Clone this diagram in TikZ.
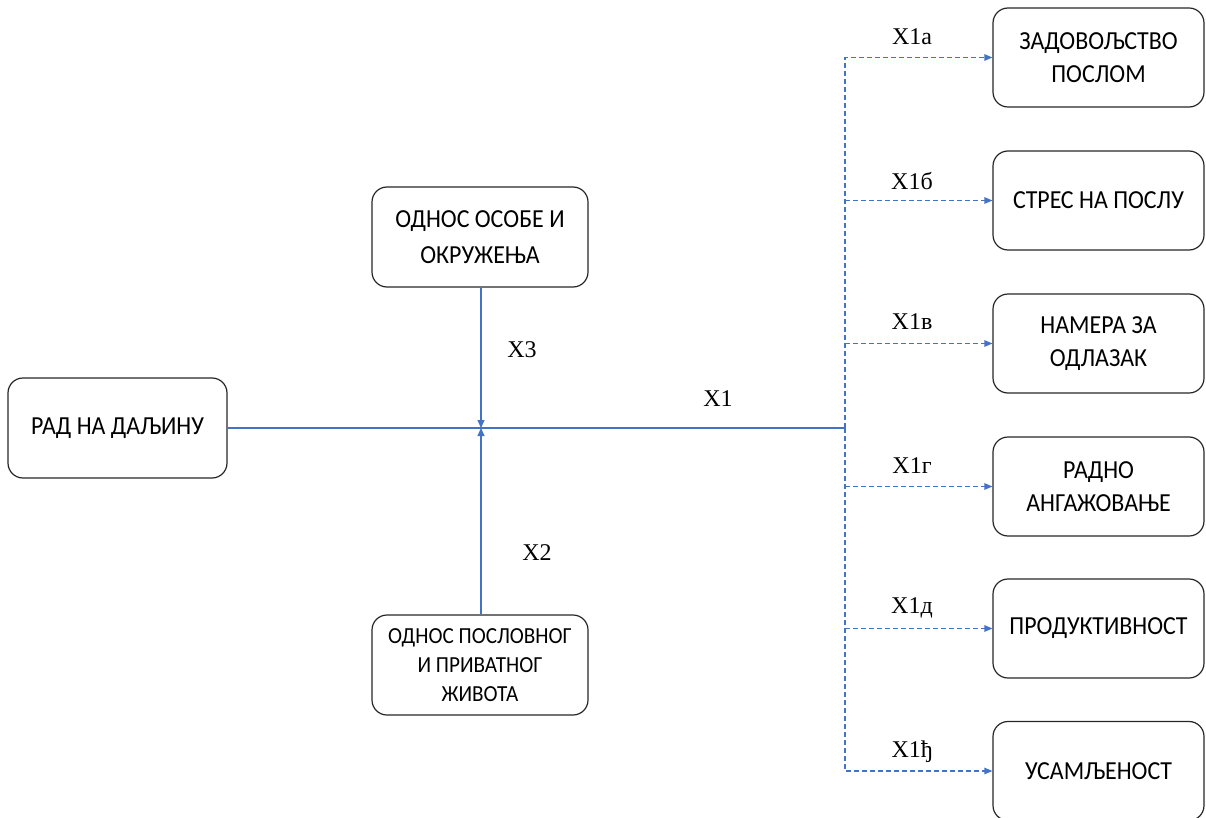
\documentclass[tikz,border=0pt]{standalone}
\usepackage{fontspec}
\setmainfont{Carlito}
\newfontfamily\boxfont[FakeStretch=0.92]{Carlito}
\newfontfamily\labfont{Liberation Serif}
\usetikzlibrary{arrows.meta}
\definecolor{linkblue}{HTML}{4472C4}
\definecolor{boxline}{HTML}{262626}
\tikzset{
  box/.style={draw=boxline, line width=1.2pt, rounded corners=15pt,
    minimum width=216pt, minimum height=100pt, align=center,
    font=\boxfont\fontsize{26}{36}\selectfont, inner sep=2pt},
  rbox/.style={box, minimum width=211pt, minimum height=99pt,
    font=\boxfont\fontsize{26}{33}\selectfont},
  link/.style={draw=linkblue, line width=1.1pt},
  tip/.style={-{Triangle[length=8pt,width=7pt]}},
  dlink/.style={link, dash pattern=on 5pt off 3pt, line width=1.2pt,
    -{Triangle[length=8pt,width=6.5pt]}},
  lab/.style={font=\labfont\fontsize{24}{24}\selectfont, inner sep=0pt}
}
\begin{document}
\begin{tikzpicture}[x=1pt,y=-1pt]
  \useasboundingbox (0,0) rectangle (1206,818);
  \clip (0,0) rectangle (1206,818);

  % source and moderators
  \node[box, minimum width=219pt] (rad) at (117.5,428) {РАД НА ДАЉИНУ};
  \node[box] (okr) at (480,237) {ОДНОС ОСОБЕ И\\ОКРУЖЕЊА};
  \node[box, font=\boxfont\fontsize{23}{29}\selectfont] (priv) at (480,665)
    {ОДНОС ПОСЛОВНОГ\\И ПРИВАТНОГ\\ЖИВОТА};

  % outcomes
  \node[rbox] (o1) at (1098.5,57.5)  {ЗАДОВОЉСТВО\\ПОСЛОМ};
  \node[rbox] (o2) at (1098.5,200.5) {СТРЕС НА ПОСЛУ};
  \node[rbox] (o3) at (1098.5,343.5) {НАМЕРА ЗА\\ОДЛАЗАК};
  \node[rbox] (o4) at (1098.5,486.5) {РАДНО\\АНГАЖОВАЊЕ};
  \node[rbox] (o5) at (1098.5,628.5) {ПРОДУКТИВНОСТ};
  \node[rbox] (o6) at (1098.5,771)   {УСАМЉЕНОСТ};

  % junction points
  \coordinate (mid) at (481,428);
  \coordinate (hub) at (845,428);

  % main path
  \draw[link] (rad.east) -- (hub);
  \draw[link, tip] (okr.south -| mid) -- (mid);
  \draw[link, tip] (priv.north -| mid) -- (mid);

  % branches to outcomes: the outer two carry the dashed spine
  \draw[dlink] (hub) |- (o1.west);
  \draw[dlink] (hub) |- (o6.west);
  \foreach \o in {o2,o3,o4,o5}
    \draw[dlink] (hub |- \o.west) -- (\o.west);

  % path labels
  \node[lab] (l3) at (522,350) {X3};
  \node[lab] (l2) at (537,553) {X2};
  \node[lab] (l1) at (718,399) {X1};
  \node[lab] (la) at (912,37)  {X1a};
  \node[lab] (lb) at (912,181) {X1б};
  \node[lab] (lc) at (912,322) {X1в};
  \node[lab] (ld) at (912,466) {X1г};
  \node[lab] (le) at (912,608) {X1д};
  \node[lab] (lf) at (912,752) {X1ђ};
\end{tikzpicture}
\end{document}
